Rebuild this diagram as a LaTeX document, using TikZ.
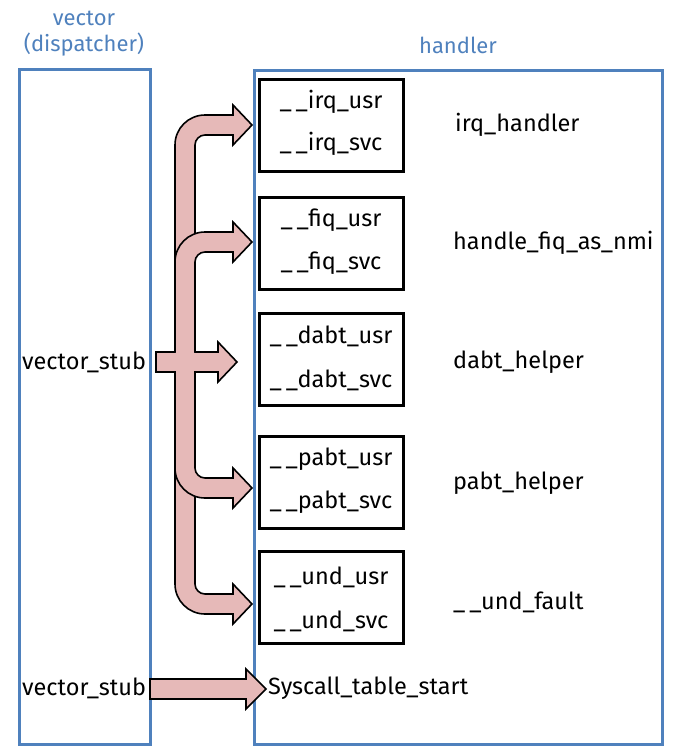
\documentclass[tikz,border=0pt]{standalone}
\usepackage{fontspec}
\setmainfont{Fira Sans}
\usetikzlibrary{positioning}
\definecolor{boxblue}{RGB}{79,129,189}
\definecolor{arrowpink}{RGB}{230,185,184}

\tikzset{
  panel/.style={draw=boxblue, line width=3pt},
  title/.style={text=boxblue, font=\fontsize{22}{26}\selectfont},
  handlerbox/.style={draw=black, line width=3pt, minimum width=144pt, minimum height=92pt},
  lbl/.style={font=\fontsize{23.5}{27}\selectfont, inner sep=0pt},
  bigarrow/.style={fill=arrowpink, draw=black, line width=1.6pt, line join=miter},
}

\begin{document}
\begin{tikzpicture}[x=1pt, y=-1pt]
\useasboundingbox (0,0) rectangle (680,756);

% panels and titles
\draw[panel] (19,69) rectangle (150,744);
\draw[panel] (254,70) rectangle (662,744);
\node[title] (ttlvec)  at (84,18) {vector};
\node[title] (ttldisp) at (84,45) {(dispatcher)};
\node[title] (ttlhdl)  at (458,45) {handler};

% handler boxes
\node[handlerbox] (irq)  at (331,125) {};
\node[handlerbox] (fiq)  at (331,243) {};
\node[handlerbox] (dabt) at (331,359) {};
\node[handlerbox] (pabt) at (331,482) {};
\node[handlerbox] (und)  at (331,597) {};

\node[lbl] (irqusr)  at (331,102) {\_\,\_irq\_usr};
\node[lbl] (irqsvc)  at (331,144) {\_\,\_irq\_svc};
\node[lbl] (fiqusr)  at (331,220) {\_\,\_fiq\_usr};
\node[lbl] (fiqsvc)  at (331,263) {\_\,\_fiq\_svc};
\node[lbl] (dabtusr) at (331,336) {\_\,\_dabt\_usr};
\node[lbl] (dabtsvc) at (331,380) {\_\,\_dabt\_svc};
\node[lbl] (pabtusr) at (331,459) {\_\,\_pabt\_usr};
\node[lbl] (pabtsvc) at (331,502) {\_\,\_pabt\_svc};
\node[lbl] (undusr)  at (331,577) {\_\,\_und\_usr};
\node[lbl] (undsvc)  at (331,621) {\_\,\_und\_svc};

\node[lbl, anchor=west] (irqh)  at (455,125) {irq\_handler};
\node[lbl, anchor=west] (fiqh)  at (453,243) {handle\_fiq\_as\_nmi};
\node[lbl, anchor=west] (dabth) at (453,362) {dabt\_helper};
\node[lbl, anchor=west] (pabth) at (453,483) {pabt\_helper};
\node[lbl, anchor=west] (undh)  at (453,602) {\_\,\_und\_fault};

\node[lbl, anchor=west] (stubA) at (22,362) {vector\_stub};
\node[lbl, anchor=west] (stubB) at (22,688) {vector\_stub};
\node[lbl, anchor=west] (sysc)  at (268,688) {Syscall\_table\_start};

% trunk: irq up, und down, stub in the middle
\draw[bigarrow] (156,352) -- (175,352) -- (175,145)
  .. controls (175,128.4) and (188.4,115) .. (205,115) -- (233,115) -- (233,105)
  -- (252,125) -- (233,145) -- (233,135) -- (205,135)
  .. controls (199.5,135) and (195,139.5) .. (195,145) -- (195,352)
  -- (218,352) -- (218,342) -- (237,362) -- (218,382) -- (218,372) -- (195,372)
  -- (195,584) .. controls (195,589.5) and (199.5,594) .. (205,594) -- (233,594)
  -- (233,584) -- (252,604) -- (233,624) -- (233,614) -- (205,614)
  .. controls (188.4,614) and (175,600.6) .. (175,584) -- (175,372) -- (156,372) -- cycle;

% fiq branch
\filldraw[bigarrow] (175,352) -- (175,262)
  .. controls (175,245.4) and (188.4,232) .. (205,232) -- (233,232) -- (233,222)
  -- (252,242) -- (233,262) -- (233,252) -- (205,252)
  .. controls (199.5,252) and (195,256.5) .. (195,262) -- (195,352);

% pabt branch
\filldraw[bigarrow] (175,372) -- (175,468)
  .. controls (175,484.6) and (188.4,498) .. (205,498) -- (233,498) -- (233,508)
  -- (252,488) -- (233,468) -- (233,478) -- (205,478)
  .. controls (199.5,478) and (195,473.5) .. (195,468) -- (195,372);

% syscall arrow
\draw[bigarrow] (150,679) -- (246,679) -- (246,669) -- (266,689) -- (246,709)
  -- (246,699) -- (150,699) -- cycle;
\end{tikzpicture}
\end{document}
